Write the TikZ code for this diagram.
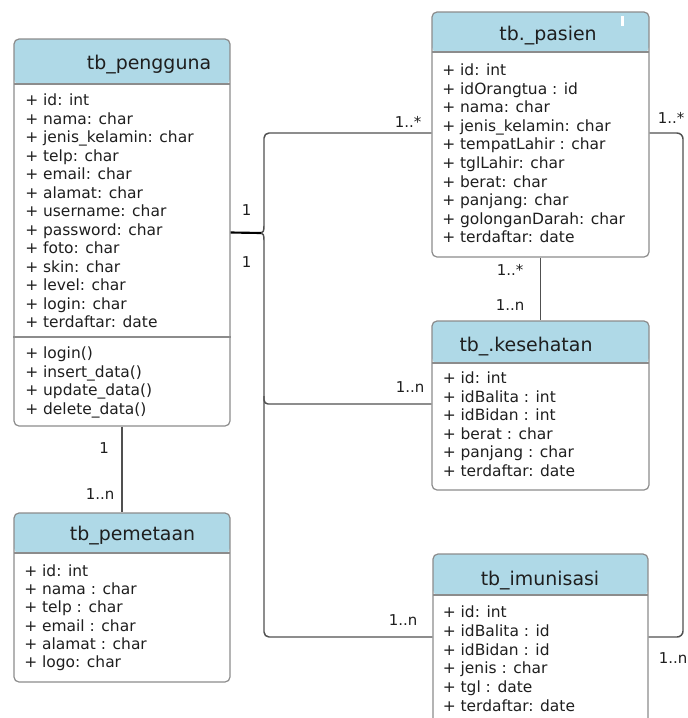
\documentclass[tikz,border=0pt]{standalone}
\usepackage{fontspec}
\setmainfont{DejaVu Sans}
\usetikzlibrary{fit}
\definecolor{hdr}{HTML}{AFD9E7}
\definecolor{edge}{HTML}{8C8C8C}
\definecolor{wire}{HTML}{505050}
\definecolor{ink}{HTML}{1E1E1E}

\tikzset{
  classbox/.style={draw=edge, line width=0.9pt, rounded corners=3.75pt, fill=white, inner sep=0pt,
    path picture={
      \fill[hdr] (path picture bounding box.north west) rectangle ([yshift=-#1*0.75pt]path picture bounding box.north east);
      \draw[edge, line width=0.9pt] ([yshift=-#1*0.75pt]path picture bounding box.north west) -- ([yshift=-#1*0.75pt]path picture bounding box.north east);
    }},
  attr/.style={anchor=base west, inner sep=0pt, text=ink, font=\fontsize{11.6pt}{14pt}\selectfont},
  title/.style={anchor=base, inner sep=0pt, text=ink, font=\fontsize{14.2pt}{16pt}\selectfont},
  lbl/.style={anchor=base, inner sep=0pt, text=ink, font=\fontsize{11.2pt}{13pt}\selectfont},
  wire/.style={draw=wire, line width=1.1pt},
}

\begin{document}
\begin{tikzpicture}[x=0.75pt, y=-0.75pt]
\clip (0,0) rectangle (688,718);
\fill[white] (0,0) rectangle (688,718);

% class boxes
\node[classbox=45, fit={(14,39) (230,426)}] (pengguna) {};
\node[classbox=40, fit={(432,12) (649,257)}] (pasien) {};
\node[classbox=42, fit={(432,321) (649,490)}] (kesehatan) {};
\node[classbox=40, fit={(14,513) (230,682)}] (pemetaan) {};
\node[classbox=41, fit={(433,554) (648,760)}] (imunisasi) {};

% attribute / operation divider of tb_pengguna
\coordinate (opdiv) at (0,337);
\draw[edge, line width=0.9pt] (pengguna.west |- opdiv) -- (pengguna.east |- opdiv);

% small highlight in the tb._pasien header
\fill[white] (621,16) rectangle (623.5,26);

% titles
\node[title] (pg-t) at (149,69.5) {tb\_pengguna};
\node[title] (ps-t) at (548,40.5) {tb.\_pasien};
\node[title] (ks-t) at (526,351.5) {tb\_.kesehatan};
\node[title] (pm-t) at (132.5,540) {tb\_pemetaan};
\node[title] (im-t) at (540,585) {tb\_imunisasi};

% tb_pengguna
\foreach \t [count=\i from 0] in {+ id: int, + nama: char, + jenis\_kelamin: char, + telp: char,
  + email: char, + alamat: char, + username: char, + password: char, + foto: char,
  + skin: char, + level: char, + login: char, + terdaftar: date}
  \node[attr] (pg-a\i) at (25,105.5+18.5*\i) {\t};
\foreach \t [count=\i from 0] in {+ login(), + insert\_data(), + update\_data(), + delete\_data()}
  \node[attr] (pg-m\i) at (25,358.5+18.5*\i) {\t};

% tb._pasien
\foreach \t [count=\i from 0] in {+ id: int, + idOrangtua : id, + nama: char, + jenis\_kelamin: char,
  + tempatLahir : char, + tglLahir: char, + berat: char, + panjang: char,
  + golonganDarah: char, + terdaftar: date}
  \node[attr] (ps-a\i) at (442,75.5+18.6*\i) {\t};

% tb_.kesehatan
\foreach \t [count=\i from 0] in {+ id: int, + idBalita : int, + idBidan : int, + berat : char,
  + panjang : char, + terdaftar: date}
  \node[attr] (ks-a\i) at (442.5,383.5+18.6*\i) {\t};

% tb_pemetaan
\foreach \t [count=\i from 0] in {+ id: int, + nama : char, + telp : char, + email : char,
  + alamat : char, + logo: char}
  \node[attr] (pm-a\i) at (24,576.5+18.2*\i) {\t};

% tb_imunisasi
\foreach \t [count=\i from 0] in {+ id: int, + idBalita : id, + idBidan : id, + jenis : char,
  + tgl : date, + terdaftar: date}
  \node[attr] (im-a\i) at (442.5,617.5+18.8*\i) {\t};

% junction points of the connectors
\coordinate (hub) at (261,233);
\coordinate (hubup) at (264,226);
\coordinate (hubdn) at (264,240);
\coordinate (jp) at (264,133);
\coordinate (jk) at (264,404);
\coordinate (jkup) at (264,396);
\coordinate (ji) at (264,637);
\coordinate (rp) at (683,133);
\coordinate (ri) at (683,637);

% trunk from tb_pengguna to the three patient-side tables
\draw[wire, rounded corners=3.75pt] (pasien.west |- jp) -- (jp) -- (hubup);
\draw[wire] (hubup) .. controls (264,231) and (263,233) .. (hub)
  .. controls (263,233) and (264,235) .. (hubdn);
\draw[wire, rounded corners=3.75pt] (hubdn) -- (ji) -- (imunisasi.west |- ji);
\draw[wire, rounded corners=3pt] (jkup) -- (jk) -- (kesehatan.west |- jk);
\draw[line width=1.6pt, black] (pengguna.east) -- (hub);
% tb._pasien to tb_imunisasi along the right side
\draw[wire, rounded corners=4.5pt] (pasien.east |- rp) -- (rp) -- (ri) -- (imunisasi.east |- ri);
\draw[wire] (pasien.south) -- (kesehatan.north);
\draw[wire] (pengguna.south) -- (pemetaan.north);

% multiplicities
\node[lbl] (m1) at (246.5,215.5) {1};
\node[lbl] (m2) at (246.5,267) {1};
\node[lbl] (m3) at (408,127) {1..*};
\node[lbl] (m4) at (410,392) {1..n};
\node[lbl] (m5) at (510,275.5) {1..*};
\node[lbl] (m6) at (510,310.5) {1..n};
\node[lbl] (m7) at (671,123.5) {1..*};
\node[lbl] (m8) at (673,663.5) {1..n};
\node[lbl] (m9) at (403,625.5) {1..n};
\node[lbl] (m10) at (104,453.5) {1};
\node[lbl] (m11) at (100,499.5) {1..n};
\end{tikzpicture}
\end{document}
